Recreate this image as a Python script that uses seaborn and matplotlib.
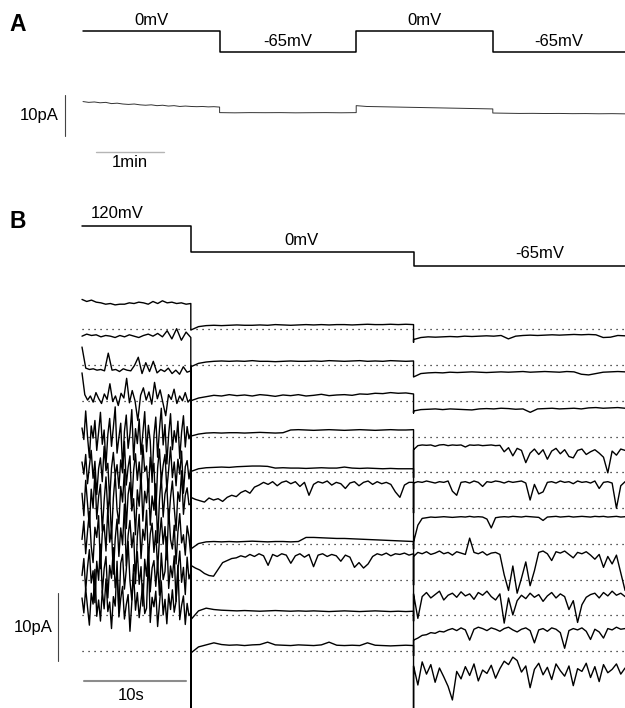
import numpy as np
import pandas as pd
import matplotlib
matplotlib.use("Agg")
import matplotlib.pyplot as plt
import seaborn as sns

W, H = 625, 708

# ---- panel A: voltage protocol (mV) and current (pA), time in minutes
a_step_times = [0, 2, 4, 6, 7.94]
a_step_mv = [0, -65, 0, -65, -65]
a_step_labels = ["0mV", "-65mV", "0mV", "-65mV"]
a_seg1 = [4.5, 4.3, 4.4, 4.2, 4.3, 4.0, 4.1, 3.9, 3.8, 3.9, 3.7, 3.6, 3.7,
          3.5, 3.6, 3.4, 3.5, 3.3, 3.4, 3.3, 3.25, 3.3, 3.2, 3.25, 3.15]
a_seg2 = [1.8, 1.75, 1.8, 1.78, 1.8, 1.75, 1.78, 1.8, 1.76, 1.8]
a_seg3 = [3.5, 3.3, 3.25, 3.2, 3.15, 3.1, 3.05, 3.0, 2.95, 2.9, 2.85, 2.8, 2.75, 2.7]
a_seg4 = [1.7, 1.65, 1.6, 1.62, 1.58, 1.6, 1.55, 1.57, 1.52, 1.55, 1.5]

# ---- panel B: protocol, time in seconds
b_step_times = [0, 10.7, 32.6, 53.4]
b_step_mv = [120, 0, -65, -65]
b_step_labels = ["120mV", "0mV", "-65mV"]

# zero-current level of each sweep (pA, stacking offset)
sweep_offsets = [47.4, 42.1, 36.8, 31.5, 26.3, 21.0, 15.7, 10.4, 5.3, 0.0]
# capacitive transients at the two voltage jumps (pA, relative to sweep zero)
jump_to_0mv = [-0.2, -6, -6, -6, -6, -6, -6, -6, -6, -70]
jump_to_65mv = [-2.0, -1.8, -1.8, -6, -6, -6, -6, -6, -6, -70]

# current of each sweep relative to its zero line (pA)
s1_left = [4.3, 4.0, 4.2, 3.9, 3.8, 3.6, 3.7, 3.5, 3.6, 3.6, 3.8, 3.7, 3.9, 3.8,
           3.6, 4.0, 3.7, 4.1, 3.8, 3.9, 3.7, 3.8, 3.6, 3.7]
s2_left = [4.2, 4.5, 4.3, 4.4, 4.1, 4.3, 4.2, 4.0, 4.3, 4.1, 4.4, 4.2, 4.0, 4.3,
           4.5, 4.2, 4.6, 4.1, 5.0, 3.8, 5.3, 3.6, 4.8, 4.0]
s3_left = [7.9, 4.8, 4.6, 4.7, 4.5, 4.6, 4.4, 7.0, 4.5, 4.6, 4.3, 4.7, 4.5, 4.4,
           5.2, 6.4, 4.0, 5.6, 4.3, 5.8, 4.1, 4.6, 4.3, 4.8, 4.0, 4.5, 3.9, 5.0,
           4.2, 4.4]
s4_left = [9.4, 6.2, 5.4, 6.0, 5.1, 6.5, 5.6, 4.9, 6.3, 5.5, 7.8, 5.2, 6.0, 4.6,
           6.4, 5.7, 8.6, 5.0, 6.8, 5.3, 2.4, 6.1, 7.2, 5.4, 6.6, 4.8, 8.0, 5.6,
           6.9, 5.0, 3.1, 6.2, 5.5, 7.0, 4.9, 6.0, 5.3, 6.5, 5.1, 5.6]
s5_left = [6.5, 4.8, 9.0, 5.2, 2.1, 6.8, 5.0, 7.6, 3.2, 5.9, 8.8, 4.1, 6.2, 1.0,
           5.5, 7.9, 3.8, 6.6, 9.6, 2.8, 5.1, 7.2, 0.4, 6.0, 8.4, 3.5, 5.7, 9.2,
           1.8, 6.4, 4.2, 7.8, 2.6, 5.8, 8.9, 3.0, 6.9, 4.6, -1.5, 5.3, 8.1, 2.2,
           6.3, 9.4, 4.0, 7.0, 1.2, 5.6, 8.6, 3.3, 6.1, 4.4, 7.5, 2.0, 5.9, 8.3,
           3.7, 6.7, 4.9, 5.8]
s6_left = [6.8, 5.0, 7.9, 3.6, 6.2, 8.5, 4.4, 6.9, 2.0, 5.8, 7.4, 3.9, 9.1, 5.5,
           6.6, 1.2, 5.9, 8.2, 4.7, 6.4, 2.9, 7.1, 5.2, 9.8, 3.4, 6.0, 7.7, 0.6,
           5.6, 8.0, 4.1, 6.8, 3.1, 9.3, 5.4, 6.2, 2.4, 7.5, 4.8, 6.6, -1.0, 5.9,
           8.7, 3.8, 6.3, 7.9, 2.7, 5.7, 9.0, 4.5, 6.8, 3.3, 7.2, 5.0, 8.4, 2.2,
           6.1, 7.0, 4.3, 6.0]
s7_left = [7.5, 4.2, 9.4, 6.0, 2.5, 8.1, 5.3, 10.6, 3.7, 7.0, 8.8, 1.9, 6.4, 9.9,
           4.6, 7.6, 0.8, 6.8, 10.2, 5.1, 3.0, 8.5, 6.2, 11.0, 2.3, 7.3, 9.1, 4.9,
           6.7, 1.4, 8.0, 5.6, 10.4, 3.4, 7.8, 6.1, 9.6, 2.8, 7.1, 5.0, 8.9, 0.2,
           6.5, 10.0, 4.0, 7.4, 8.6, 3.1, 6.9, 9.3, 5.4, 2.0, 7.7, 6.3, 10.8, 4.4,
           7.2, 8.3, 5.8, 6.0]
s8_left = [6.0, 8.7, 3.9, 7.2, 10.1, 5.0, 2.6, 7.8, 6.3, 9.5, 1.7, 6.9, 8.2, 4.3,
           10.7, 5.6, 7.4, 0.9, 6.1, 9.0, 3.5, 7.7, 5.2, 11.2, 2.1, 6.6, 8.8, 4.8,
           7.0, -0.5, 6.4, 9.7, 3.2, 7.5, 5.9, 10.3, 2.9, 6.8, 8.4, 4.1, 7.3, 1.5,
           6.2, 9.2, 5.3, 7.9, 3.0, 10.5, 6.0, 4.6, 8.1, 2.4, 7.1, 9.8, 5.5, 6.7,
           3.7, 8.0, 6.4, 3.5]
s9_left = [5.8, 8.3, 3.6, 7.0, 9.6, 4.7, 6.5, 1.8, 7.9, 5.1, 10.4, 3.2, 6.8, 8.6,
           2.5, 7.3, 5.4, 9.9, 4.0, 6.2, 0.7, 7.6, 8.9, 3.8, 6.6, 10.8, 5.0, 2.2,
           7.4, 6.0, 9.3, 4.5, 7.1, 1.3, 8.2, 5.7, 10.0, 3.4, 6.9, 8.0, 4.2, 7.8,
           2.9, 9.1, 5.2, 6.4, 11.5, 3.9, 7.2, 5.5, 8.7, 2.0, 6.7, 9.4, 4.8, 7.0,
           3.0, 8.5, 5.3, 6.2]
s10_left = [7.8, 5.6, 9.2, 6.4, 3.8, 8.5, 6.9, 12.0, 5.1, 7.5, 4.4, 8.9, 6.2, 10.6,
            5.8, 7.2, 3.3, 8.0, 6.6, 13.2, 5.0, 7.7, 9.5, 4.7, 6.8, 8.3, 2.9, 7.1,
            11.4, 6.0, 8.6, 4.9, 7.4, 9.9, 5.5, 6.3, 14.0, 4.2, 7.9, 6.5, 8.8, 3.6,
            6.9, 10.2, 5.3, 7.6, 4.0, 8.4, 6.1, 9.0, 5.7, 7.3, 12.6, 4.6, 6.7, 8.1,
            3.9, 7.0, 5.2, 5.6]

s1_mid = [-0.2, 0.3, 0.45, 0.5, 0.45, 0.5, 0.55, 0.5, 0.5, 0.55, 0.5, 0.6, 0.55, 0.5,
          0.55, 0.6, 0.55, 0.6, 0.55, 0.6, 0.6, 0.55, 0.6, 0.65, 0.6, 0.6, 0.65, 0.6,
          0.65, 0.6]
s2_mid = [-0.3, 0.2, 0.4, 0.5, 0.55, 0.5, 0.55, 0.5, 0.6, 0.5, 0.5, 0.45, 0.5, 0.55,
          0.5, 0.5, 0.55, 0.5, 0.6, 0.55, 0.5, 0.55, 0.6, 0.5, 0.55, 0.5, 0.6, 0.55,
          0.5, 0.55]
s3_mid = [0.0, 0.4, 0.6, 0.8, 0.7, 0.9, 0.75, 0.85, 0.7, 0.9, 0.8, 0.65, 0.85, 0.75,
          0.9, 0.7, 0.8, 0.95, 0.75, 0.85, 0.9, 0.8, 1.0, 0.95, 1.1, 1.05, 1.2, 1.1,
          1.15, 1.0]
s4_mid = [0.1, 0.4, 0.55, 0.6, 0.55, 0.6, 0.6, 0.55, 0.6, 0.65, 0.6, 0.55, 0.6, 1.0,
          1.05, 1.0, 0.95, 1.0, 1.05, 1.0, 0.95, 1.0, 1.05, 1.0, 0.95, 1.0, 1.05, 1.0,
          1.0, 1.05]
s5_mid = [0.1, 0.5, 0.65, 0.7, 0.75, 0.7, 0.8, 0.85, 0.9, 0.9, 0.85, 0.6, 0.65, 0.6,
          0.6, 0.55, 0.6, 0.65, 0.6, 0.6, 0.75, 0.6, 0.55, 0.6, 0.55, 0.5, 0.55, 0.5,
          0.5, 0.5]
s6_mid = [1.6, 1.3, 1.1, 0.9, 1.5, 1.2, 1.4, 1.0, 1.6, 1.9, 1.7, 2.3, 2.6, 2.2, 3.1,
          3.4, 3.8, 3.5, 3.9, 3.3, 3.8, 4.0, 3.6, 3.9, 3.2, 3.8, 1.9, 3.5, 3.9, 3.7,
          4.0, 3.4, 3.8, 3.6, 2.9, 3.7, 3.9, 3.3, 3.8, 4.0, 3.5, 3.9, 3.6, 3.8, 3.5,
          2.4, 1.6, 3.4, 3.8, 3.8]
s7_mid = [-0.7, 0.1, 0.35, 0.4, 0.35, 0.4, 0.35, 0.4, 0.45, 0.4, 0.35, 0.4, 0.4, 0.35,
          0.4, 1.0, 1.0, 0.95, 0.9, 0.85, 0.85, 0.8, 0.75, 0.7, 0.65, 0.6, 0.55, 0.5,
          0.45, 0.4]
s8_mid = [2.2, 1.8, 1.5, 1.0, 0.7, 0.6, 1.6, 2.6, 2.9, 3.2, 3.3, 3.6, 3.4, 3.8, 3.5,
          3.9, 3.6, 2.2, 3.8, 3.5, 3.9, 3.7, 2.5, 3.6, 3.9, 3.4, 3.8, 2.0, 3.7, 3.9,
          3.5, 3.8, 3.6, 2.8, 3.7, 3.4, 1.9, 2.6, 1.8, 2.4, 3.5, 3.9, 3.7, 4.0, 3.6,
          3.9, 3.8, 4.0, 3.7, 3.9]
s9_mid = [-0.7, 0.6, 1.0, 0.8, 0.7, 0.65, 0.6, 0.65, 0.6, 0.55, 0.6, 0.65, 0.6, 0.55,
          0.6, 0.55, 0.6, 0.55, 0.5, 0.55, 0.6, 0.55, 0.5, 0.55, 0.6, 0.55, 0.5, 0.55,
          0.5, 0.55]
s10_mid = [-0.3, 0.6, 0.9, 1.2, 0.95, 0.85, 0.9, 0.8, 0.9, 0.95, 1.3, 0.9, 0.85, 0.8,
           0.9, 0.85, 0.8, 0.9, 1.3, 0.85, 0.8, 0.85, 0.8, 1.2, 0.85, 0.8, 0.75, 0.8,
           0.85, 0.8]

s1_right = [-1.6, -1.3, -1.2, -1.25, -1.2, -1.15, -1.2, -1.1, -1.15, -1.1, -1.05, -1.1,
            -1.0, -1.5, -1.1, -1.0, -0.95, -1.0, -0.95, -0.9, -0.95, -0.9, -0.85, -0.9,
            -0.85, -0.9, -1.3, -1.25, -1.0, -1.05]
s2_right = [-1.8, -1.3, -1.2, -1.15, -1.2, -1.1, -1.15, -1.1, -1.05, -1.1, -1.15, -1.1,
            -1.05, -1.1, -1.05, -1.0, -1.1, -1.05, -1.0, -1.05, -1.1, -1.0, -1.05, -1.4,
            -1.5, -1.3, -1.1, -1.05, -1.0, -1.05]
s3_right = [-1.5, -1.3, -1.25, -1.2, -1.3, -1.2, -1.25, -1.3, -1.35, -1.2, -1.15, -1.2,
            -1.1, -1.15, -1.25, -1.2, -1.7, -1.2, -1.15, -1.1, -1.2, -1.15, -1.1, -1.2,
            -1.05, -1.0, -1.1, -1.05, -1.0, -1.1]
s4_right = [-1.9, -1.3, -1.2, -1.25, -1.2, -1.4, -1.2, -1.15, -1.3, -1.2, -1.25, -1.2,
            -1.5, -1.2, -1.25, -1.2, -1.3, -1.25, -1.2, -1.3, -1.25, -2.2, -1.6, -2.8,
            -1.7, -2.0, -3.8, -2.4, -1.8, -2.6, -1.9, -3.3, -2.1, -1.7, -2.5, -1.9,
            -2.9, -3.1, -2.0, -1.8, -2.6, -2.2, -1.9, -2.4, -3.0, -5.3, -2.1, -2.7,
            -1.8, -2.0]
s5_right = [-1.6, -1.4, -1.5, -1.3, -1.45, -1.6, -1.4, -1.5, -1.3, -2.8, -3.4, -1.5,
            -1.4, -1.6, -1.3, -1.5, -2.1, -1.4, -1.5, -1.3, -1.4, -1.6, -1.35, -1.5,
            -1.4, -1.3, -1.6, -4.1, -1.8, -3.2, -2.9, -1.5, -1.4, -1.6, -1.3, -1.5,
            -1.4, -1.7, -1.3, -1.5, -1.4, -1.6, -1.3, -2.4, -1.5, -1.4, -1.6, -5.3,
            -2.0, -1.4]
s6_right = [-5.0, -2.5, -1.5, -1.4, -1.3, -1.35, -1.3, -1.25, -1.3, -1.35, -1.3, -1.25,
            -1.3, -1.2, -1.3, -1.25, -1.3, -1.6, -2.9, -1.4, -1.3, -1.25, -1.3, -1.2,
            -1.25, -1.3, -1.2, -1.25, -1.3, -1.35, -1.8, -1.3, -1.25, -1.2, -1.3,
            -1.25, -1.2, -1.3, -1.25, -1.2, -1.25, -1.3, -1.2, -1.25, -1.2, -1.3,
            -1.25, -1.2, -1.3, -1.25]
s7_right = [-1.8, -1.2, -1.4, -1.1, -1.5, -1.3, -1.0, -1.4, -1.2, -1.6, -1.1, -1.3,
            -1.5, 0.9, -1.2, -1.4, -1.1, -1.6, -1.3, -1.2, -1.5, -4.5, -6.8, -3.2,
            -7.2, -5.0, -2.6, -6.1, -3.9, -1.2, -1.0, -1.4, -2.4, -1.1, -1.3, -1.0,
            -1.5, -2.0, -1.2, -1.4, -1.1, -1.6, -2.2, -1.5, -3.4, -1.8, -2.9, -1.6,
            -4.2, -6.8]
s8_right = [-2.0, -5.6, -2.4, -1.8, -2.6, -2.1, -1.6, -2.9, -2.2, -1.9, -2.5, -1.7,
            -2.3, -2.0, -2.8, -1.8, -2.2, -1.6, -2.4, -2.9, -2.0, -6.3, -2.6, -5.1,
            -3.0, -2.2, -2.7, -1.9, -2.5, -2.1, -3.1, -2.3, -1.8, -2.6, -2.0, -2.4,
            -4.3, -3.0, -6.2, -3.6, -2.5, -2.1, -1.9, -2.6, -1.8, -2.3, -1.6, -2.2,
            -1.9, -2.4]
s9_right = [-3.7, -3.4, -3.0, -2.9, -2.6, -2.7, -2.4, -2.5, -2.2, -2.0, -2.3, -1.9,
            -2.2, -3.7, -2.1, -1.8, -2.0, -2.3, -1.9, -2.1, -2.4, -2.0, -1.8, -2.2,
            -2.5, -2.1, -1.9, -2.3, -4.1, -2.2, -2.0, -2.4, -1.9, -2.1, -2.6, -4.9,
            -2.3, -2.0, -2.2, -1.9, -2.4, -3.6, -2.1, -2.5, -3.4, -2.0, -2.2, -1.8,
            -2.1, -2.0]
s10_right = [-2.2, -5.0, -1.6, -3.4, -2.0, -4.6, -2.5, -3.8, -5.2, -7.2, -3.0, -4.1,
             -2.3, -3.6, -1.9, -4.4, -2.8, -3.3, -2.1, -4.0, -2.6, -1.5, -2.0, -0.9,
             -1.4, -3.1, -2.2, -5.4, -2.7, -1.8, -3.5, -2.4, -4.2, -1.9, -2.9, -3.7,
             -2.2, -5.1, -2.6, -3.0, -1.8, -3.9, -2.3, -4.5, -2.0, -3.2, -2.7, -1.9,
             -3.4, -2.5]

left_parts = [s1_left, s2_left, s3_left, s4_left, s5_left,
              s6_left, s7_left, s8_left, s9_left, s10_left]
mid_parts = [s1_mid, s2_mid, s3_mid, s4_mid, s5_mid,
             s6_mid, s7_mid, s8_mid, s9_mid, s10_mid]
right_parts = [s1_right, s2_right, s3_right, s4_right, s5_right,
               s6_right, s7_right, s8_right, s9_right, s10_right]

# ---- tables
rows = []
t0, t1, t2, t3 = b_step_times
for k in range(10):
    L, M, R = left_parts[k], mid_parts[k], right_parts[k]
    t = np.concatenate([np.linspace(t0, t1, len(L)), [t1],
                        np.linspace(t1, t2, len(M)), [t2],
                        np.linspace(t2, t3, len(R))])
    v = np.concatenate([L, [jump_to_0mv[k]], M, [jump_to_65mv[k]], R]) + sweep_offsets[k]
    rows.append(pd.DataFrame({"t": t, "pA": v, "sweep": k}))
df_b = pd.concat(rows, ignore_index=True)

a_parts = [a_seg1, a_seg2, a_seg3, a_seg4]
ta, va = [], []
for k, seg in enumerate(a_parts):
    ta.append(np.linspace(a_step_times[k], a_step_times[k + 1], len(seg)))
    va.append(seg)
df_a = pd.DataFrame({"t": np.concatenate(ta), "pA": np.concatenate(va)})

sns.set_style("white")
plt.rcParams["font.family"] = ["Liberation Sans", "DejaVu Sans"]
plt.rcParams["text.color"] = "black"

fig = plt.figure(figsize=(W / 100, H / 100), dpi=100)


def overlay(px0, sx, py0, sy):
    # full-figure axes whose data units map onto the page
    ax = fig.add_axes([0, 0, 1, 1])
    ax.axis("off")
    lims = ((-px0) / sx, (W - px0) / sx), ((py0 - H) / sy, py0 / sy)
    return ax, lims


def finish(ax, lims):
    ax.set_xlim(*lims[0])
    ax.set_ylim(*lims[1])


# panel A protocol
ax_av, lim_av = overlay(83, 68.3, 31, 0.323)
sns.lineplot(x=a_step_times, y=a_step_mv, drawstyle="steps-post", color="black",
             lw=1.1, ax=ax_av, estimator=None, sort=False)
for k, lab in enumerate(a_step_labels):
    mid = (a_step_times[k] + a_step_times[k + 1]) / 2
    ax_av.text(mid, a_step_mv[k] + 33, lab, ha="center", va="center", fontsize=12)
finish(ax_av, lim_av)

# panel A current
ax_ai, lim_ai = overlay(83, 68.3, 120, 4.1)
sns.lineplot(data=df_a, x="t", y="pA", color="#333333", lw=0.7, ax=ax_ai,
             estimator=None, sort=False)
ax_ai.plot([-0.264, -0.264], [-3.9, 6.1], color="#444444", lw=0.8)
ax_ai.text(-0.36, 1.2, "10pA", ha="right", va="center", fontsize=12)
ax_ai.plot([0.19, 1.19], [-7.7, -7.7], color="#b5b5b5", lw=1.0)
ax_ai.text(0.69, -10.3, "1min", ha="center", va="center", fontsize=12)
finish(ax_ai, lim_ai)

# panel B protocol
ax_bv, lim_bv = overlay(82, 10.17, 252, 0.22)
sns.lineplot(x=b_step_times, y=b_step_mv, drawstyle="steps-post", color="black",
             lw=1.1, ax=ax_bv, estimator=None, sort=False)
b_label_pos = [(3.44, 177), (21.6, 54), (45.0, -9)]
for lab, (tx, vy) in zip(b_step_labels, b_label_pos):
    ax_bv.text(tx, vy, lab, ha="center", va="center", fontsize=12)
finish(ax_bv, lim_bv)

# panel B sweeps
ax_bi, lim_bi = overlay(82, 10.17, 651, 6.8)
for off in sweep_offsets:
    ax_bi.plot([t0, t3], [off, off], color="black", lw=0.9,
               linestyle=(0, (0.9, 3.9)))
sns.lineplot(data=df_b, x="t", y="pA", units="sweep", estimator=None, sort=False,
             color="black", lw=1.0, ax=ax_bi, legend=False)
ax_bi.plot([-2.36, -2.36], [-1.4, 8.6], color="#444444", lw=0.8)
ax_bi.text(-2.9, 3.5, "10pA", ha="right", va="center", fontsize=12)
ax_bi.plot([0.2, 10.2], [-4.4, -4.4], color="#8c8c8c", lw=1.5)
ax_bi.text(4.8, -6.5, "10s", ha="center", va="center", fontsize=12)
finish(ax_bi, lim_bi)

fig.text(18 / W, 1 - 24.5 / H, "A", ha="center", va="center", fontsize=16.5,
         weight="bold")
fig.text(18 / W, 1 - 221 / H, "B", ha="center", va="center", fontsize=16.5,
         weight="bold")

fig.savefig("out.png", dpi=100)
